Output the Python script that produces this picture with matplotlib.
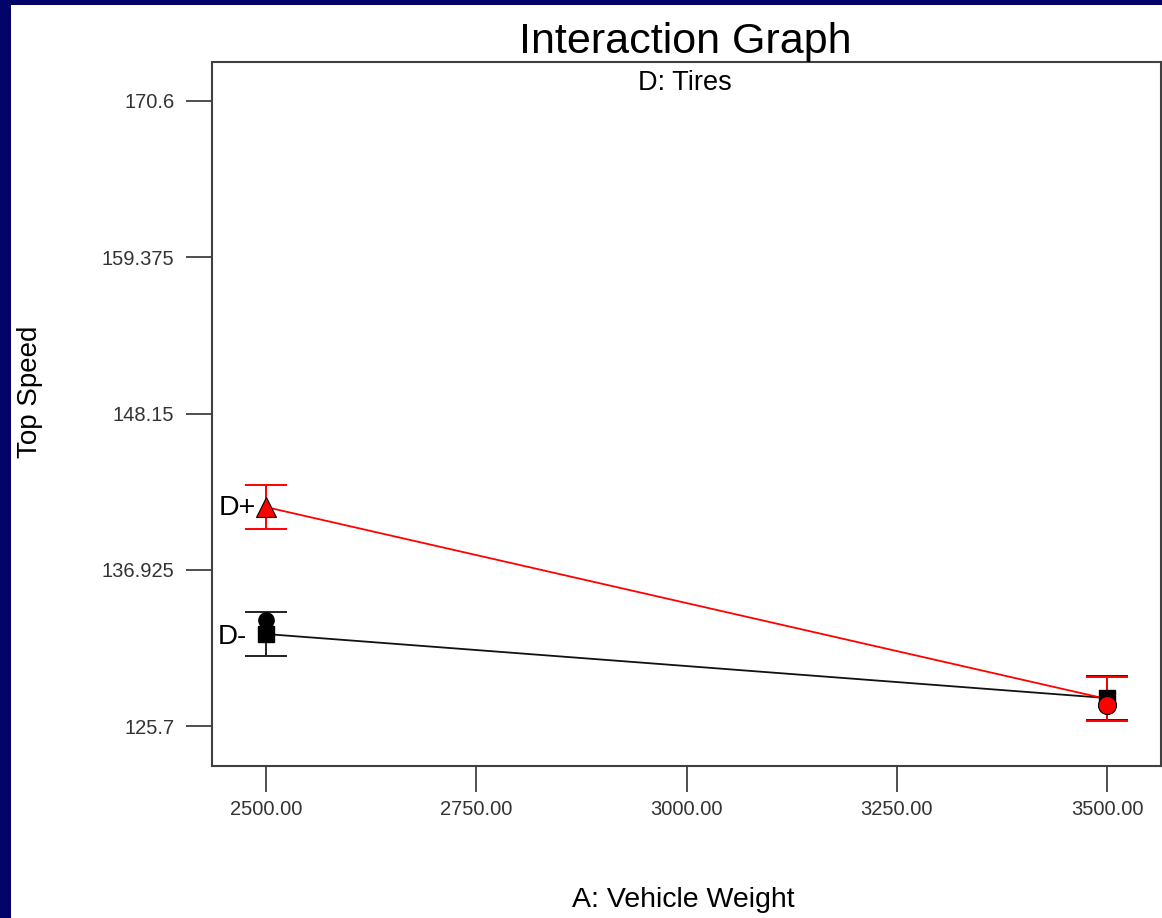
import matplotlib
matplotlib.use("Agg")
import matplotlib.pyplot as plt
from matplotlib.patches import Rectangle

# ---- data ----
weights = [2500.0, 3500.0]
d_plus_mean = [141.43, 127.64]
d_minus_mean = [132.31, 127.71]
err_half = 1.58
d_minus_points_x = [2500.0]
d_minus_points_y = [133.32]
d_plus_points_x = [3500.0]
d_plus_points_y = [127.21]
y_ticks = [125.7, 136.925, 148.15, 159.375, 170.6]
y_tick_labels = ["125.7", "136.925", "148.15", "159.375", "170.6"]
x_ticks = [2500, 2750, 3000, 3250, 3500]
x_tick_labels = ["2500.00", "2750.00", "3000.00", "3250.00", "3500.00"]

W, H = 1162, 918
plt.rcParams['font.family'] = ['Liberation Sans', 'DejaVu Sans']
fig = plt.figure(figsize=(W / 100, H / 100), dpi=100)
fig.patch.set_facecolor('#03036a')
fig.patches.append(Rectangle((11 / W, 0), 1 - 11 / W, 1 - 5 / H, transform=fig.transFigure,
                             facecolor='white', edgecolor='none', zorder=-10))

def fx(px):
    return px / W

def fy(py):
    return 1 - py / H

ax = fig.add_axes([fx(212), fy(766), fx(1161) - fx(212), fy(62) - fy(766)])
ax.set_zorder(5)
ax.set_facecolor('white')
ax.set_xlim(2435.8, 3564.2)
ax.set_ylim(122.83, 173.40)

# lines
ax.plot(weights, d_minus_mean, color='#111111', lw=1.3, zorder=3)
ax.plot(weights, d_plus_mean, color='#ff0000', lw=1.3, zorder=4)

# error bars
ax.errorbar(weights, d_minus_mean, yerr=err_half, fmt='none', ecolor='#222222',
            elinewidth=1.4, capsize=15, capthick=1.4, zorder=5)
ax.errorbar(weights, d_plus_mean, yerr=err_half, fmt='none', ecolor='#ff0000',
            elinewidth=1.4, capsize=15, capthick=1.4, zorder=6)

# markers
ax.plot(d_minus_points_x, d_minus_points_y, 'o', color='black', ms=11, zorder=7)
ax.plot(weights, d_minus_mean, 's', color='black', ms=12, zorder=8)
ax.plot(d_plus_points_x, d_plus_points_y, 'o', color='#ff0000', mec='black', mew=0.8, ms=13, zorder=9)
ax.plot(weights[:1], d_plus_mean[:1], '^', color='#ff0000', mec='black', mew=0.8, ms=14, zorder=9)

# series labels
ax.annotate("D+", xy=(weights[0], d_plus_mean[0]), xytext=(-10, -1), textcoords='offset pixels',
            ha='right', va='center', fontsize=20.5, color='black', zorder=10)
ax.annotate("D-", xy=(weights[0], d_minus_mean[0]), xytext=(-19, -3), textcoords='offset pixels',
            ha='right', va='center', fontsize=20, color='black', zorder=10)

# axes styling
for s in ax.spines.values():
    s.set_color('#404040')
    s.set_linewidth(1.5)
ax.set_yticks(y_ticks)
ax.set_yticklabels(y_tick_labels)
ax.set_xticks(x_ticks)
ax.set_xticklabels(x_tick_labels)
ax.tick_params(axis='y', direction='out', length=19, width=1.3, color='#404040',
               labelsize=14.5, labelcolor='#333333', pad=8)
ax.tick_params(axis='x', direction='out', length=19, width=1.3, color='#404040',
               labelsize=14.5, labelcolor='#333333', pad=5.5)

# texts
fig.text(fx(685), fy(53), "Interaction Graph", ha='center', va='baseline', fontsize=31, color='black', zorder=20)
fig.text(fx(685), fy(90), "D: Tires", ha='center', va='baseline', fontsize=19.5, color='black', zorder=20)
fig.text(fx(30), fy(392), "Top Speed", ha='center', va='center', rotation=90, fontsize=20, color='black', zorder=20)
fig.text(fx(683), fy(907), "A: Vehicle Weight", ha='center', va='baseline', fontsize=20.5, color='black', zorder=20)

fig.savefig("out.png", dpi=100, facecolor=fig.get_facecolor())
